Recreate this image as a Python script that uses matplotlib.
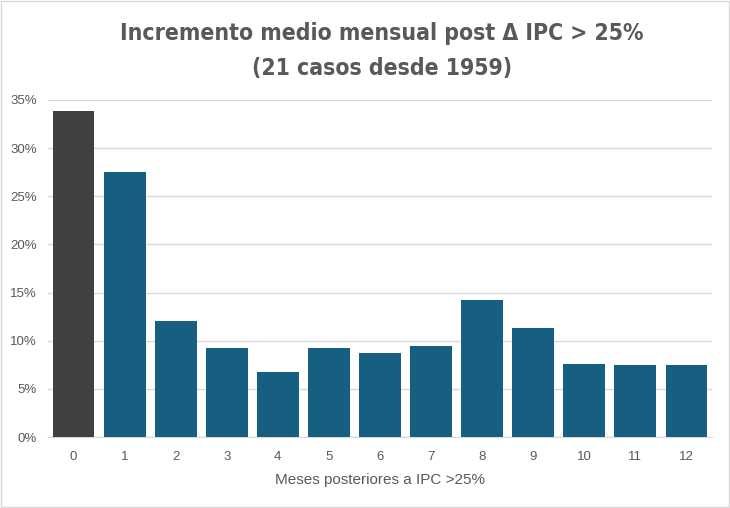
import matplotlib.pyplot as plt
from matplotlib import font_manager
from matplotlib.ticker import FuncFormatter, MultipleLocator
from matplotlib.patches import Rectangle

# months after a >25% CPI jump, and mean monthly increase (%)
meses = ['0', '1', '2', '3', '4', '5', '6', '7', '8', '9', '10', '11', '12']
incremento = [33.9, 27.5, 12.05, 9.25, 6.8, 9.25, 8.75, 9.5, 14.25, 11.35, 7.6, 7.5, 7.5]

# a narrow face for the title if one is around
condensed = [f for f in font_manager.fontManager.ttflist
             if f.name == 'DejaVu Sans' and f.stretch == 'condensed' and f.weight in (700, 'bold')]
if condensed:
    titulo_font = dict(fontproperties=font_manager.FontProperties(fname=condensed[0].fname, size=16.5))
else:
    titulo_font = dict(fontsize=14.5, fontweight='bold', family='DejaVu Sans')

plt.rcParams['font.family'] = ['Liberation Sans', 'DejaVu Sans']

fig = plt.figure(figsize=(7.3, 5.08), dpi=100)
ax = fig.add_axes([48/730, 1 - 437/508, 664/730, 337/508])

colores = ['#404040'] + ['#175F80'] * (len(meses) - 1)
x = range(len(meses))
ax.bar(x, incremento, width=0.82, color=colores, zorder=3)

ax.set_xlim(-0.5, len(meses) - 0.5)
ax.set_ylim(0, 35)
ax.yaxis.set_major_locator(MultipleLocator(5))
ax.yaxis.set_major_formatter(FuncFormatter(lambda v, p: f'{v:.0f}%'))
ax.set_xticks(list(x))
ax.set_xticklabels(meses)
ax.grid(axis='y', color='#d9d9d9', linewidth=1, zorder=0)
for s in ['top', 'right', 'left']:
    ax.spines[s].set_visible(False)
ax.spines['bottom'].set_color('#d9d9d9')
ax.tick_params(length=0, labelsize=9.5, colors='#595959')
ax.tick_params(axis='x', pad=10)
ax.tick_params(axis='y', pad=8)

ax.set_xlabel('Meses posteriores a IPC >25%', fontsize=11, color='#595959', labelpad=7)

fig.text(382/730, 1 - 51/508, 'Incremento medio mensual post Δ IPC > 25%\n(21 casos desde 1959)',
         ha='center', va='center', color='#595959', linespacing=1.7, **titulo_font)

fig.patches.append(Rectangle((0.001, 0.001), 0.997, 0.997, transform=fig.transFigure,
                             fill=False, edgecolor='#d9d9d9', linewidth=1))

fig.savefig('out.png', dpi=100)
